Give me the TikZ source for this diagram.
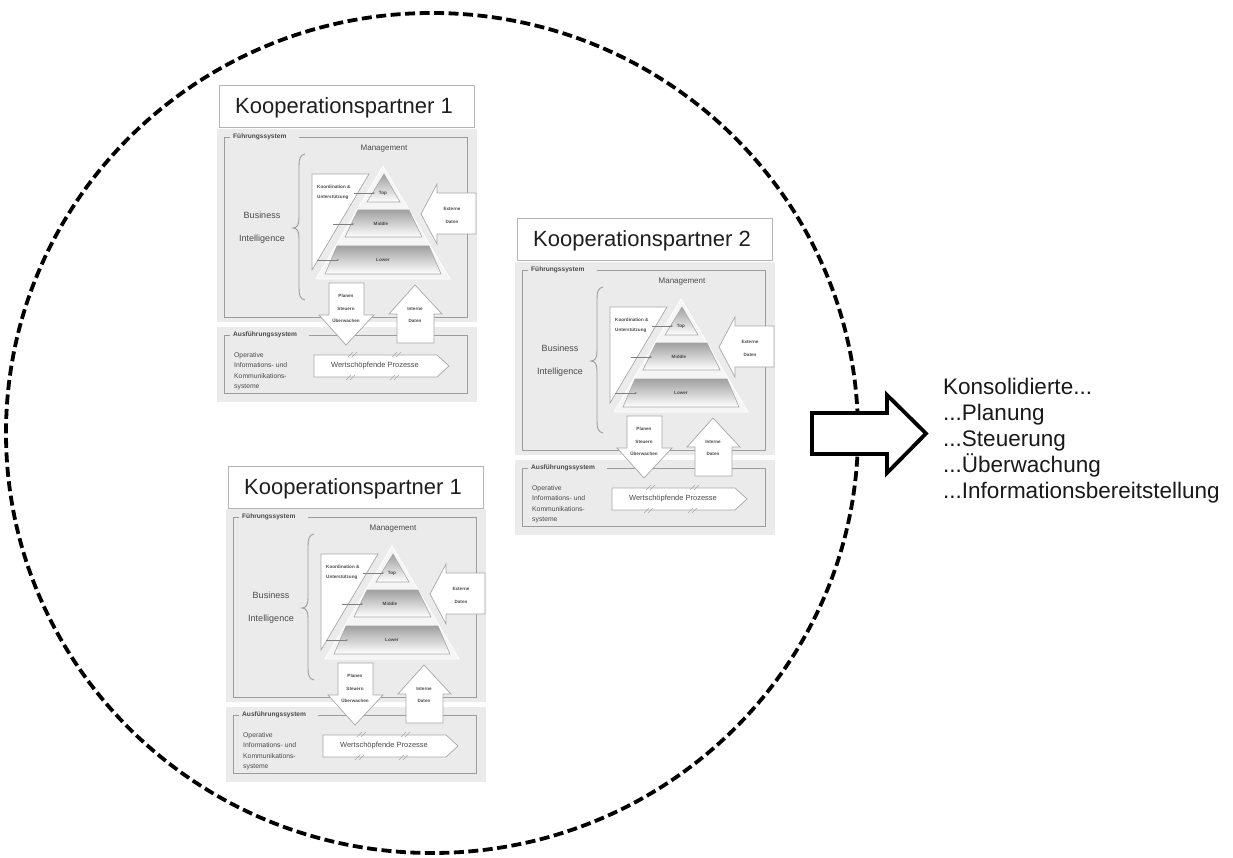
\documentclass[tikz,border=0pt]{standalone}
\usepackage{fontspec}
\setmainfont{Liberation Sans}
\usetikzlibrary{arrows.meta}
\definecolor{panelgray}{HTML}{EBEBEB}
\definecolor{framegray}{HTML}{9C9C9C}
\definecolor{titlegray}{HTML}{B4B4B4}
\definecolor{labelgray}{HTML}{4A4A4A}
\definecolor{shapeline}{HTML}{A8A8A8}
\definecolor{layergray}{HTML}{A0A0A0}
\tikzset{
  titlebox/.style={draw=titlegray, line width=1pt, fill=white},
  titletext/.style={font=\fontsize{22}{26}\selectfont, text=black!88, inner sep=0pt, anchor=base west},
  panelfill/.style={fill=panelgray},
  frameline/.style={draw=framegray, line width=0.9pt},
  syslabel/.style={font=\bfseries\fontsize{6.6}{8}\selectfont, text=labelgray, inner sep=0pt, anchor=west},
  mgmtlabel/.style={font=\fontsize{8}{9}\selectfont, text=labelgray, inner sep=0pt},
  bilabel/.style={font=\fontsize{9}{10}\selectfont, text=labelgray, inner sep=0pt},
  tinylabel/.style={font=\bfseries\fontsize{4.6}{5.5}\selectfont, text=labelgray, inner sep=0pt},
  oplabel/.style={font=\fontsize{6.8}{8}\selectfont, text=labelgray, inner sep=0pt, anchor=base west},
  proclabel/.style={font=\fontsize{7.5}{9}\selectfont, text=labelgray, inner sep=0pt},
  whiteshape/.style={fill=white, draw=shapeline, line width=0.7pt},
  outertri/.style={fill=white!96!black, draw=white, line width=0.8pt},
  layer/.style={top color=layergray, bottom color=white, draw=shapeline, line width=0.6pt},
  bracepath/.style={draw=framegray, line width=0.9pt},
  notch/.style={draw=shapeline, line width=0.6pt},
  smallarrow/.style={draw=gray, line width=0.5pt, -{Stealth[length=2pt,width=1.8pt]}},
  dashring/.style={draw=black, line width=3.8pt, dash pattern=on 10pt off 4.5pt},
  bigarrow/.style={draw=black, fill=white, line width=3.8pt, miter limit=10},
  sidetext/.style={font=\fontsize{22.5}{26}\selectfont, text=black!90, inner sep=0pt, anchor=base west},
}
\newcommand{\partnerblock}[4]{%
\begin{scope}[shift={(#1,#2)}]
  \fill[panelfill] (-2,43) rectangle (258,236);
  \fill[panelfill] (-2,241) rectangle (258,316);
  \draw[titlebox] (0,0) rectangle (255,42);
  \node[titletext] (#4-title) at (16,28) {Kooperationspartner #3};
  % frames
  \draw[frameline] (11,51) -- (5,51) -- (5,231) -- (248,231) -- (248,51) -- (80,51);
  \node[syslabel] (#4-fs) at (14,51) {Führungssystem};
  \draw[frameline] (11,249) -- (5,249) -- (5,307) -- (248,307) -- (248,249) -- (90,249);
  \node[syslabel] (#4-as) at (14,249) {Ausführungssystem};
  % management and BI
  \node[mgmtlabel] (#4-mgmt) at (165,63) {Management};
  \draw[bracepath] (86,68) .. controls (81,69) and (80,73) .. (80,80) -- (80,132)
     .. controls (80,139) and (78,142) .. (74,142)
     .. controls (78,142) and (80,145) .. (80,152) -- (80,202)
     .. controls (80,209) and (81,213) .. (86,214);
  \node[bilabel] (#4-bus) at (43,129) {Business};
  \node[bilabel] (#4-int) at (43,153) {Intelligence};
  % pyramid
  \draw[outertri] (164,80) -- (231,193) -- (97,193) -- cycle;
  \draw[whiteshape] (93,88) -- (150,88) -- (93,184) -- cycle;
  \draw[layer] (165,88) -- (181,116) -- (148,116) -- cycle;
  \draw[layer] (139,124) -- (190,124) -- (203,151) -- (126,151) -- cycle;
  \draw[layer] (118,160) -- (210,160) -- (222,188) -- (106,188) -- cycle;
  \node[tinylabel] (#4-top) at (164,107) {Top};
  \node[tinylabel] (#4-mid) at (162,138) {Middle};
  \node[tinylabel] (#4-low) at (164,174) {Lower};
  \node[tinylabel, anchor=west] (#4-ko1) at (98,101) {Koordination \&};
  \node[tinylabel, anchor=west] (#4-ko2) at (98,111.5) {Unterstützung};
  \draw[smallarrow] (135,107) -- (156,107);
  \draw[smallarrow] (114,138) -- (135,138);
  \draw[smallarrow] (98,174) -- (120,174);
  % Externe Daten
  \draw[whiteshape] (202,128) -- (218,98) -- (218,107) -- (257,107) -- (257,148)
     -- (218,148) -- (218,158) -- cycle;
  \node[tinylabel] (#4-ext1) at (233,123) {Externe};
  \node[tinylabel] (#4-ext2) at (233,135.5) {Daten};
  % Planen / Steuern / Ueberwachen
  \draw[whiteshape] (110,197) -- (145,197) -- (145,229) -- (155,229) -- (127,259)
     -- (100,229) -- (110,229) -- cycle;
  \node[tinylabel] (#4-pl1) at (127,210) {Planen};
  \node[tinylabel] (#4-pl2) at (127,222.5) {Steuern};
  \node[tinylabel] (#4-pl3) at (127,235) {Überwachen};
  % Interne Daten
  \draw[whiteshape] (196,199) -- (223,228) -- (215,228) -- (215,257) -- (178,257)
     -- (178,228) -- (170,228) -- cycle;
  \node[tinylabel] (#4-in1) at (196,223) {Interne};
  \node[tinylabel] (#4-in2) at (196,235) {Daten};
  % Ausfuehrungssystem content
  \node[oplabel] (#4-op1) at (15,271) {Operative};
  \node[oplabel] (#4-op2) at (15,281.5) {Informations- und};
  \node[oplabel] (#4-op3) at (15,292) {Kommunikations-};
  \node[oplabel] (#4-op4) at (15,302.5) {systeme};
  \draw[whiteshape] (95,269) -- (218,269) -- (230,280) -- (218,291) -- (95,291) -- cycle;
  \draw[notch] (129,271) -- (134,266) (133,271) -- (138,266)
               (127,294) -- (132,289) (131,294) -- (136,289)
               (173,271) -- (178,266) (177,271) -- (182,266)
               (171,294) -- (176,289) (175,294) -- (180,289);
  \node[proclabel] (#4-proc) at (156,280) {Wertschöpfende Prozesse};
\end{scope}}

\begin{document}
\begin{tikzpicture}[x=1pt, y=-1pt]
  \useasboundingbox[fill=white] (0,0) rectangle (1233,858);
  % dashed enclosing circle
  \draw[dashring] (432,433) ellipse [x radius=426pt, y radius=420pt];
  % partner blocks
  \partnerblock{219}{86}{1}{pa}
  \partnerblock{517}{219}{2}{pb}
  \partnerblock{228}{466}{1}{pc}
  % big arrow
  \draw[bigarrow] (812,413) -- (887,413) -- (887,395) -- (926,433.5) -- (887,473)
     -- (887,454) -- (812,454) -- cycle;
  % result text
  \node[sidetext] (r1) at (943,394) {Konsolidierte...};
  \node[sidetext] (r2) at (943,420) {...Planung};
  \node[sidetext] (r3) at (943,446) {...Steuerung};
  \node[sidetext] (r4) at (943,472) {...Überwachung};
  \node[sidetext] (r5) at (943,498) {...Informationsbereitstellung};
\end{tikzpicture}
\end{document}
